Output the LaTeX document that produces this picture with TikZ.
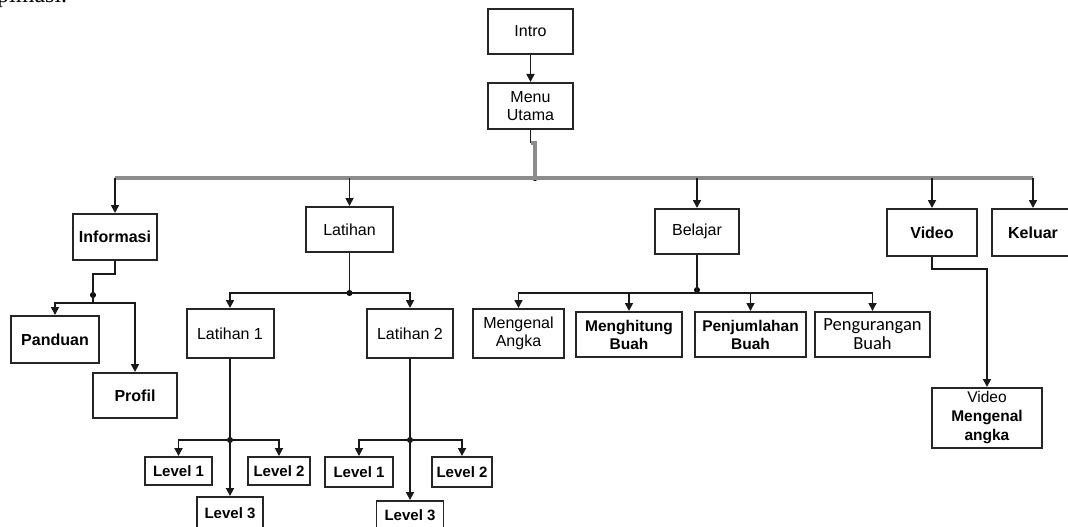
\documentclass[tikz,border=0pt]{standalone}
\usepackage{fontspec}
\setmainfont{Liberation Sans}
\newfontfamily\calfont{Carlito}
\newfontfamily\serfont{Liberation Serif}
\usetikzlibrary{arrows.meta}
\begin{document}
\begin{tikzpicture}[x=1pt,y=-1pt,
  box/.style={draw=black!85, line width=2pt, fill=white, inner sep=0pt, align=center,
    font=\fontsize{16}{18}\selectfont},
  bbox/.style={box, font=\fontsize{16}{18}\selectfont\bfseries},
  lvl/.style={box, line width=1.9pt, font=\fontsize{15}{17}\selectfont\bfseries},
  arr/.style={draw=black!90, line width=1.7pt, -{Triangle[length=8pt,width=8pt]}},
  ln/.style={draw=black!90, line width=1.7pt},
  busline/.style={draw=black!45, line width=3.4pt},
  dotc/.style={circle, fill=black, inner sep=0pt, minimum size=6pt}
]
\useasboundingbox (0,0) rectangle (1068,527);
% cut-off text at the top
\node[font=\serfont\fontsize{24}{24}\selectfont, anchor=base west, inner sep=0pt] (cut) at (-3,3) {pimasi.};

% nodes
\node[box, minimum width=85pt, minimum height=45pt] (intro) at (530.5,31.5) {Intro};
\node[box, minimum width=85pt, minimum height=46pt] (menu) at (530.5,106) {Menu\\Utama};
\node[bbox, minimum width=84pt, minimum height=46pt] (info) at (115,237) {Informasi};
\node[box, minimum width=87pt, minimum height=45pt] (latihan) at (349.5,229.5) {Latihan};
\node[box, minimum width=84pt, minimum height=45pt] (belajar) at (697,231.5) {Belajar};
\node[bbox, minimum width=90pt, minimum height=47pt] (video) at (932,232.5) {Video};
\node[bbox, minimum width=82pt, minimum height=47pt] (keluar) at (1033,232.5) {Keluar};
\node[bbox, minimum width=88pt, minimum height=47pt] (panduan) at (55,339.5) {Panduan};
\node[bbox, minimum width=84pt, minimum height=45pt] (profil) at (135,395.5) {Profil};
\node[box, minimum width=87pt, minimum height=49pt] (lat1) at (230,333.5) {Latihan 1};
\node[box, minimum width=86pt, minimum height=49pt] (lat2) at (410,333.5) {Latihan 2};
\node[box, minimum width=91pt, minimum height=49pt] (mengenal) at (518.5,333.5) {Mengenal\\Angka};
\node[bbox, minimum width=106pt, minimum height=45pt, font=\fontsize{15.5}{18}\selectfont\bfseries] (menghitung) at (629,334.5) {Menghitung\\Buah};
\node[bbox, minimum width=111pt, minimum height=45pt, font=\fontsize{15.5}{18}\selectfont\bfseries] (penjumlahan) at (750.5,334.5) {Penjumlahan\\Buah};
\node[box, minimum width=115pt, minimum height=45pt, font=\calfont\fontsize{18.5}{19}\selectfont] (pengurangan) at (872.5,334.5) {Pengurangan\\Buah};
\node[box, minimum width=110pt, minimum height=60pt, font=\fontsize{15.5}{19}\selectfont] (vidmeng) at (987,418) {Video\\\textbf{Mengenal}\\\textbf{angka}};
\node[lvl, minimum width=67pt, minimum height=28pt] (l1a) at (178.5,471) {Level 1};
\node[lvl, minimum width=62pt, minimum height=28pt] (l2a) at (279,471) {Level 2};
\node[lvl, minimum width=66pt, minimum height=33pt] (l3a) at (230,513.5) {Level 3};
\node[lvl, minimum width=68pt, minimum height=30pt] (l1b) at (359,472) {Level 1};
\node[lvl, minimum width=60pt, minimum height=30pt] (l2b) at (462,472) {Level 2};
\node[lvl, minimum width=67pt, minimum height=29pt] (l3b) at (410,515.5) {Level 3};

% junction points
\coordinate (mjog) at (530.5,143);
\node[dotc] (bus) at (535,178) {};
\coordinate (busL) at (115,178);
\coordinate (busR) at (1033,178);
\node[dotc] (idot) at (93,295) {};
\coordinate (ibar) at (93,303);
\node[dotc] (ldot) at (349.5,293) {};
\node[dotc] (bdot) at (697,290) {};
\node[dotc] (l1dot) at (230,440) {};
\node[dotc] (l2dot) at (410,440) {};

% connectors
\draw[arr] (intro) -- (menu);
\draw[ln] (menu.south) -- (mjog);
\draw[busline] (mjog) -| (bus.center);
\draw[busline] (busL) -- (busR);
\draw[arr] (info.north |- bus) -- (info.north);
\draw[arr] (latihan.north |- bus) -- (latihan.north);
\draw[arr] (belajar.north |- bus) -- (belajar.north);
\draw[arr] (video.north |- bus) -- (video.north);
\draw[arr] (keluar.north |- bus) -- (keluar.north);

\draw[ln] (info.south) -- ++(0,13) -| (idot.center) -- (ibar);
\draw[arr] (ibar) -| (panduan.north);
\draw[arr] (ibar) -| (profil.north);

\draw[ln] (latihan.south) -- (ldot.center);
\draw[arr] (ldot.center) -| (lat1.north);
\draw[arr] (ldot.center) -| (lat2.north);

\draw[ln] (lat1.south) -- (l1dot.center);
\draw[arr] (l1dot.center) -| (l1a.north);
\draw[arr] (l1dot.center) -| (l2a.north);
\draw[arr] (l1dot.center) -- (l3a.north);

\draw[ln] (lat2.south) -- (l2dot.center);
\draw[arr] (l2dot.center) -| (l1b.north);
\draw[arr] (l2dot.center) -| (l2b.north);
\draw[arr] (l2dot.center) -- (l3b.north);

\draw[ln] (belajar.south) -- (bdot.center);
\draw[arr] (bdot.center) |- ++(0,3) -| (mengenal.north);
\draw[arr] (bdot.center) |- ++(0,3) -| (menghitung.north);
\draw[arr] (bdot.center) |- ++(0,3) -| (penjumlahan.north);
\draw[arr] (bdot.center) |- ++(0,3) -| (pengurangan.north);

\draw[arr] (video.south) -- ++(0,12) -| (vidmeng.north);
\end{tikzpicture}
\end{document}
